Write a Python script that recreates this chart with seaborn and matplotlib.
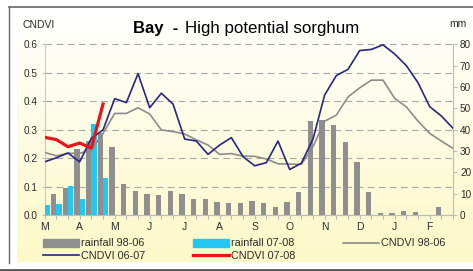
import numpy as np
import pandas as pd
import matplotlib
matplotlib.use("Agg")
import matplotlib.pyplot as plt
from matplotlib.lines import Line2D
from matplotlib.patches import Patch
import seaborn as sns

# dekads from March to February (3 per month)
dekads = list(range(36))
month_labels = ["M", "A", "M", "J", "J", "A", "S", "O", "N", "D", "J", "F"]

# rainfall (mm) per dekad
rain_9806 = [np.nan, 9.7, 12.5, 30.8, 34.5, 38.5, 32.0, 14.5, 11.3, 9.8, 9.4, 11.3,
             9.8, 7.4, 7.4, 6.2, 5.8, 5.6, 6.4, 5.8, 3.6, 6.2, 11.0, 44.0,
             44.7, 42.4, 34.0, 24.8, 11.0, 0.9, 0.9, 2.0, 1.2, 0.0, 3.8, 0.0]
rain_0708 = [4.6, 5.0, 13.8, 7.5, 42.6, 17.2]

# CNDVI series
cndvi_9806 = [0.220, 0.208, 0.217, 0.217, 0.228, 0.287, 0.357, 0.357, 0.377, 0.355, 0.299, 0.293,
              0.285, 0.264, 0.246, 0.213, 0.216, 0.207, 0.206, 0.197, 0.180, 0.179, 0.178, 0.240,
              0.330, 0.351, 0.415, 0.447, 0.474, 0.474, 0.410, 0.380, 0.330, 0.287, 0.260, 0.234]
cndvi_0607 = [0.187, 0.201, 0.218, 0.187, 0.270, 0.299, 0.409, 0.395, 0.497, 0.377, 0.428, 0.390,
              0.267, 0.260, 0.213, 0.246, 0.272, 0.205, 0.173, 0.184, 0.260, 0.160, 0.182, 0.267,
              0.422, 0.490, 0.512, 0.578, 0.582, 0.598, 0.566, 0.525, 0.465, 0.381, 0.348, 0.305]
cndvi_0708 = [0.273, 0.265, 0.240, 0.253, 0.235, 0.390]

c_grey_bar = "#8f8f8f"
c_cyan = "#22c8f2"
c_grey_line = "#8c8c8c"
c_navy = "#27277f"
c_red = "#e8151b"
txt = "#2b2b2b"

plt.rcParams["font.family"] = ["Liberation Sans", "DejaVu Sans"]

W, H = 473, 271
fig = plt.figure(figsize=(W / 100, H / 100), dpi=100)
fig.patch.set_facecolor("white")

# cream gradient background
bg = fig.add_axes([17 / W, 1 - 262 / H, (W - 17) / W, (262 - 10) / H])
grad = np.linspace(0, 1, 256).reshape(-1, 1)
top = np.array([1.0, 1.0, 1.0])
bot = np.array([0.99, 0.975, 0.78])
img = top + (bot - top) * grad[:, :, None] * np.ones((1, 2, 3))
bg.imshow(img, aspect="auto", extent=[0, 1, 0, 1])
bg.axis("off")

# frame lines
fig.add_artist(Line2D([9 / W, 1], [1 - 7 / H, 1 - 7 / H], color="#666666", lw=1.2))
fig.add_artist(Line2D([9 / W, 9 / W], [1 - 7 / H, 1 - 263 / H], color="#666666", lw=1.0))
fig.add_artist(Line2D([0, 1], [1 - 270 / H, 1 - 270 / H], color="#555555", lw=2))

pos = [44.7 / W, 1 - 215 / H, (453 - 44.7) / W, (215 - 44.3) / H]
ax = fig.add_axes(pos)          # left axis + grid
ax_bar = ax.twinx()             # rainfall (mm)
ax_line = ax.twinx()            # CNDVI lines on top
for a in (ax, ax_bar, ax_line):
    a.patch.set_visible(False)
ax.set_zorder(1)
ax_bar.set_zorder(2)
ax_line.set_zorder(3)

# bars
df_rain = pd.DataFrame({
    "dekad": dekads * 2,
    "mm": rain_9806 + rain_0708 + [0.0] * (36 - len(rain_0708)),
    "serie": ["rainfall 98-06"] * 36 + ["rainfall 07-08"] * 36,
}).dropna()
sns.barplot(data=df_rain, x="dekad", y="mm", hue="serie", order=dekads,
            hue_order=["rainfall 98-06", "rainfall 07-08"],
            palette=[c_grey_bar, c_cyan], width=0.92, errorbar=None,
            saturation=1, legend=False, ax=ax_bar)

# lines
sns.lineplot(x=dekads, y=cndvi_9806, color=c_grey_line, lw=1.2, ax=ax_line)
sns.lineplot(x=dekads, y=cndvi_0607, color=c_navy, lw=1.2, ax=ax_line)
sns.lineplot(x=dekads[:len(cndvi_0708)], y=cndvi_0708, color=c_red, lw=2.3, ax=ax_line)

for a in (ax, ax_bar, ax_line):
    a.set_xlim(0, 35)
ax.set_ylim(0, 0.6)
ax_line.set_ylim(0, 0.6)
ax_bar.set_ylim(0, 80)

# left axis
ax.set_yticks(np.arange(0, 0.61, 0.1))
ax.set_yticklabels([f"{v:.1f}" for v in np.arange(0, 0.61, 0.1)], fontsize=7.2, color=txt)
ax.tick_params(axis="y", length=2, color="#bbbbbb", pad=3)
ax.grid(axis="y", color="#a8a8a8", lw=0.8, ls=(0, (6, 4)))
ax.set_axisbelow(True)
for s in ["top", "right"]:
    ax.spines[s].set_visible(False)
ax.spines["left"].set_color("#c8c8c8")
ax.spines["bottom"].set_color("#bbbbbb")
ax.set_xticks(dekads)
ax.set_xticklabels([month_labels[i // 3] if i % 3 == 0 else "" for i in dekads],
                   fontsize=7.5, color=txt)
ax.tick_params(axis="x", length=3, color="#bbbbbb", pad=2)

# right axis
ax_bar.set_yticks(range(0, 81, 10))
ax_bar.set_yticklabels([str(v) for v in range(0, 81, 10)], fontsize=7.2, color=txt)
ax_bar.tick_params(axis="y", length=3, color="#bbbbbb", pad=2)
ax_bar.set_xlabel("")
ax_bar.set_ylabel("")
for s in ["top", "left", "bottom"]:
    ax_bar.spines[s].set_visible(False)
ax_bar.spines["right"].set_color("#bbbbbb")
ax_bar.tick_params(axis="x", bottom=False, labelbottom=False)

ax_line.axis("off")

# texts
fig.text(22 / W, 1 - 25 / H, "CNDVI", fontsize=7.5, color=txt, va="center")
fig.text(449 / W, 1 - 24 / H, "mm", fontsize=7.5, color=txt, va="center")
fig.text(133 / W, 1 - 33.3 / H, "Bay  -", fontsize=12, fontweight="bold", va="baseline")
fig.text(185 / W, 1 - 33.3 / H, "High potential sorghum", fontsize=12.2, va="baseline")

# legend
handles = [
    Patch(color=c_grey_bar, label="rainfall 98-06"),
    Line2D([], [], color=c_navy, lw=1.2, label="CNDVI 06-07"),
    Patch(color=c_cyan, label="rainfall 07-08"),
    Line2D([], [], color=c_red, lw=2.3, label="CNDVI 07-08"),
    Line2D([], [], color=c_grey_line, lw=1.2, label="CNDVI 98-06"),
]
fig.legend(handles=handles, ncol=3, loc="upper left",
           bbox_to_anchor=(43 / W, 1 - 238.5 / H), frameon=False, fontsize=7.8,
           handlelength=3.3, handleheight=0.75, handletextpad=0.25,
           columnspacing=4.35, labelspacing=0.25, borderpad=0, borderaxespad=0,
           labelcolor=txt)

fig.savefig("out.png", dpi=100)
